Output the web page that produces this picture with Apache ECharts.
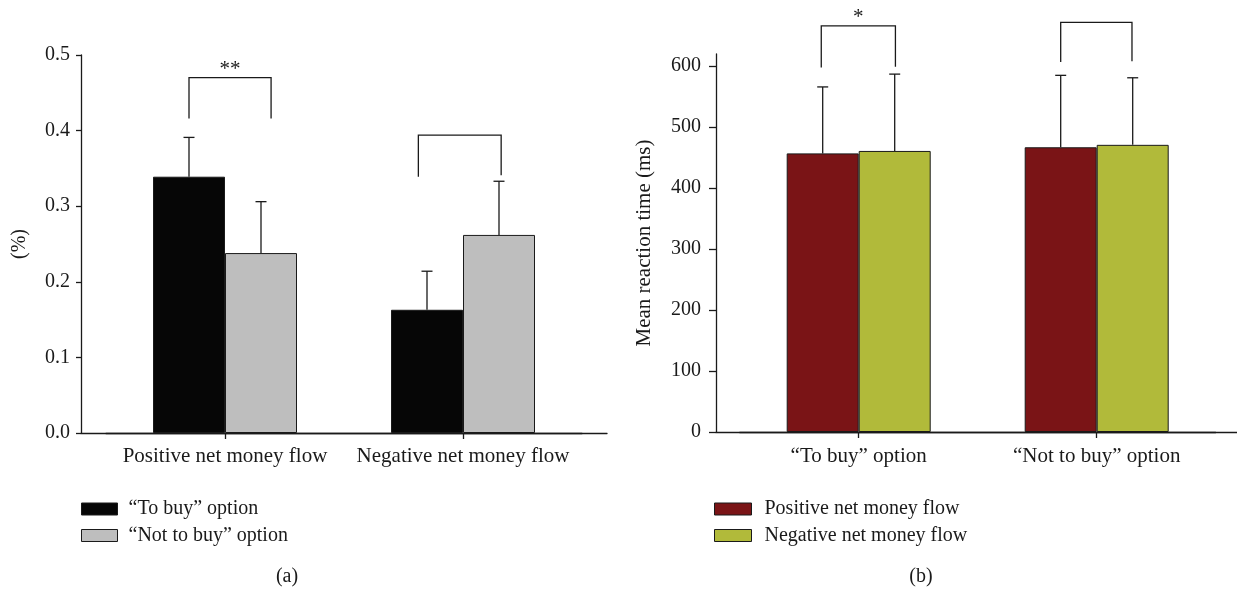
<!DOCTYPE html>
<html>
<head>
<meta charset="utf-8">
<title>Choice proportion and reaction time by net money flow</title>
<script src="https://cdn.jsdelivr.net/npm/echarts@6/dist/echarts.min.js"></script>
<style>
  html, body { margin: 0; padding: 0; background: #ffffff; }
  #chart { width: 1237px; height: 591px; }
</style>
</head>
<body>
<div id="chart"></div>
<script>
// ---- Panel (a): share of choices by net money flow ----
const flowCategories = ['Positive net money flow', 'Negative net money flow'];
const optionNames = ['\u201CTo buy\u201D option', '\u201CNot to buy\u201D option'];
const toBuyShare = [0.339, 0.163];
const toBuyShareUpper = [0.391, 0.214];
const notToBuyShare = [0.238, 0.262];
const notToBuyShareUpper = [0.306, 0.333];
const shareTicks = [0, 0.1, 0.2, 0.3, 0.4, 0.5];
// significance brackets: [category, bracket top, left leg end, right leg end, mark]
const shareBrackets = [
  [0, 0.470, 0.416, 0.416, '**'],
  [1, 0.394, 0.339, 0.341, '']
];

// ---- Panel (b): mean reaction time by option ----
const optionCategories = ['\u201CTo buy\u201D option', '\u201CNot to buy\u201D option'];
const flowNames = ['Positive net money flow', 'Negative net money flow'];
const positiveRT = [457, 467];
const positiveRTUpper = [566, 585];
const negativeRT = [461, 471];
const negativeRTUpper = [587, 581];
const rtTicks = [0, 100, 200, 300, 400, 500, 600];
const rtBrackets = [
  [0, 666, 598, 599, '*'],
  [1, 672, 607, 608, '']
];

// ---- styling ----
const FONT = "'Liberation Serif', 'Times New Roman', serif";
const INK = '#1a1a1a';
const BAR_W = 72;
// horizontal placement of bracket legs, in bar widths from the group centre
const leftLegShift = [[-0.5, 0.64], [-0.62, 0.53]];
const rightLegShift = [[-0.52, 0.51], [-0.5, 0.49]];

function errorItems(lowerArr, upperArr, side) {
  return lowerArr.map((v, i) => [i, v, upperArr[i], side]);
}

function renderError(params, api) {
  const cat = api.value(0);
  const base = api.coord([cat, api.value(1)]);
  const top = api.coord([cat, api.value(2)]);
  const x = base[0] + api.value(3) * BAR_W / 2;
  const st = { stroke: INK, lineWidth: 1.3 };
  return {
    type: 'group',
    children: [
      { type: 'line', shape: { x1: x, y1: base[1], x2: x, y2: top[1] }, style: st },
      { type: 'line', shape: { x1: x - 5.5, y1: top[1], x2: x + 5.5, y2: top[1] }, style: st }
    ]
  };
}

function bracketRenderer(shifts) {
  return function (params, api) {
    const i = params.dataIndex;
    const cat = api.value(0);
    const topP = api.coord([cat, api.value(1)]);
    const lp = api.coord([cat, api.value(2)]);
    const rp = api.coord([cat, api.value(3)]);
    const xl = topP[0] + shifts[i][0] * BAR_W;
    const xr = topP[0] + shifts[i][1] * BAR_W;
    const mark = api.value(4);
    const children = [{
      type: 'polyline',
      shape: { points: [[xl, lp[1]], [xl, topP[1]], [xr, topP[1]], [xr, rp[1]]] },
      style: { stroke: INK, lineWidth: 1.3, fill: 'none' }
    }];
    if (mark) {
      children.push({
        type: 'text',
        style: {
          text: mark, x: (xl + xr) / 2, y: topP[1] - 8,
          align: 'center', verticalAlign: 'middle',
          font: '21px ' + FONT, fill: INK
        }
      });
    }
    return { type: 'group', children: children };
  };
}

const frameX = (gridIndex) => ({
  type: 'value', gridIndex: gridIndex, min: 0, max: 1,
  axisLine: { show: true, lineStyle: { color: INK, width: 1.3 } },
  axisTick: { show: false }, axisLabel: { show: false }, splitLine: { show: false }
});

const barX = (gridIndex, cats, margin) => ({
  type: 'category', gridIndex: gridIndex, data: cats,
  axisLine: { show: true, lineStyle: { color: INK, width: 1.3 } },
  axisTick: { show: true, alignWithLabel: true, length: 6, lineStyle: { color: INK, width: 1.3 } },
  axisLabel: { color: INK, fontFamily: FONT, fontSize: 21, margin: margin, interval: 0 },
  splitLine: { show: false }
});

const hiddenY = (gridIndex, max) => ({
  type: 'value', gridIndex: gridIndex, min: 0, max: max, show: false
});

const legendText = { color: INK, fontFamily: FONT, fontSize: 20, lineHeight: 20, padding: [0, 0, 0, 6] };

const chart = echarts.init(document.getElementById('chart'), null, { renderer: 'canvas' });

const option = {
  animation: false,
  backgroundColor: '#ffffff',
  textStyle: { fontFamily: FONT },
  grid: [
    { left: 81, top: 55, width: 526, height: 378 },
    { left: 106, top: 55, width: 476, height: 378 },
    { left: 716, top: 54, width: 523, height: 378 },
    { left: 739.7, top: 54, width: 476, height: 378 }
  ],
  xAxis: [
    frameX(0),
    barX(1, flowCategories, 13),
    frameX(2),
    barX(3, optionCategories, 14)
  ],
  yAxis: [
    {
      type: 'value', gridIndex: 0, min: 0, max: 0.5,
      name: '(%)', nameLocation: 'middle', nameRotate: 90, nameGap: 51,
      nameTextStyle: { color: INK, fontFamily: FONT, fontSize: 20 },
      axisLine: { show: true, lineStyle: { color: INK, width: 1.3 } },
      axisTick: { show: true, length: 5, customValues: shareTicks, lineStyle: { color: INK, width: 1.3 } },
      axisLabel: {
        color: INK, fontFamily: FONT, fontSize: 20, margin: 11,
        customValues: shareTicks,
        formatter: (v) => v.toFixed(1)
      },
      splitLine: { show: false }
    },
    hiddenY(1, 0.5),
    {
      type: 'value', gridIndex: 2, min: 0, max: 620,
      name: 'Mean reaction time (ms)', nameLocation: 'middle', nameRotate: 90, nameGap: 61,
      nameTextStyle: { color: INK, fontFamily: FONT, fontSize: 21 },
      axisLine: { show: true, lineStyle: { color: INK, width: 1.3 } },
      axisTick: { show: true, length: 7, customValues: rtTicks, lineStyle: { color: INK, width: 1.3 } },
      axisLabel: {
        color: INK, fontFamily: FONT, fontSize: 20, margin: 15,
        customValues: rtTicks
      },
      splitLine: { show: false }
    },
    hiddenY(3, 620)
  ],
  legend: [
    {
      data: optionNames, orient: 'vertical', left: 81, top: 499, padding: 0,
      itemWidth: 36, itemHeight: 12, itemGap: 6.5, icon: 'rect',
      selectedMode: false,
      itemStyle: { borderColor: INK, borderWidth: 1 },
      textStyle: legendText
    },
    {
      data: flowNames, orient: 'vertical', left: 714, top: 499, padding: 0,
      itemWidth: 37, itemHeight: 12, itemGap: 6.5, icon: 'rect',
      selectedMode: false,
      itemStyle: { borderColor: INK, borderWidth: 1 },
      textStyle: Object.assign({}, legendText, { padding: [0, 0, 0, 8] })
    }
  ],
  graphic: [
    { type: 'text', x: 287, y: 577, style: { text: '(a)', font: '20px ' + FONT, fill: INK, align: 'center', verticalAlign: 'middle' } },
    { type: 'text', x: 921, y: 577, style: { text: '(b)', font: '20px ' + FONT, fill: INK, align: 'center', verticalAlign: 'middle' } }
  ],
  series: [
    {
      name: optionNames[0], type: 'bar', xAxisIndex: 1, yAxisIndex: 1,
      data: toBuyShare, barWidth: BAR_W, barGap: '0%',
      itemStyle: { color: '#060606', borderColor: INK, borderWidth: 1 }
    },
    {
      name: optionNames[1], type: 'bar', xAxisIndex: 1, yAxisIndex: 1,
      data: notToBuyShare, barWidth: BAR_W, barGap: '0%',
      itemStyle: { color: '#bebebe', borderColor: INK, borderWidth: 1 }
    },
    {
      type: 'custom', xAxisIndex: 1, yAxisIndex: 1, z: 5,
      renderItem: renderError,
      data: errorItems(toBuyShare, toBuyShareUpper, -1).concat(errorItems(notToBuyShare, notToBuyShareUpper, 1))
    },
    {
      type: 'custom', xAxisIndex: 1, yAxisIndex: 1, z: 5,
      renderItem: bracketRenderer(leftLegShift),
      data: shareBrackets
    },
    {
      name: flowNames[0], type: 'bar', xAxisIndex: 3, yAxisIndex: 3,
      data: positiveRT, barWidth: BAR_W, barGap: '0%',
      itemStyle: { color: '#7a1416', borderColor: INK, borderWidth: 1 }
    },
    {
      name: flowNames[1], type: 'bar', xAxisIndex: 3, yAxisIndex: 3,
      data: negativeRT, barWidth: BAR_W, barGap: '0%',
      itemStyle: { color: '#b1ba3a', borderColor: INK, borderWidth: 1 }
    },
    {
      type: 'custom', xAxisIndex: 3, yAxisIndex: 3, z: 5,
      renderItem: renderError,
      data: errorItems(positiveRT, positiveRTUpper, -1).concat(errorItems(negativeRT, negativeRTUpper, 1))
    },
    {
      type: 'custom', xAxisIndex: 3, yAxisIndex: 3, z: 5,
      renderItem: bracketRenderer(rightLegShift),
      data: rtBrackets
    }
  ]
};

chart.setOption(option);
</script>
</body>
</html>
